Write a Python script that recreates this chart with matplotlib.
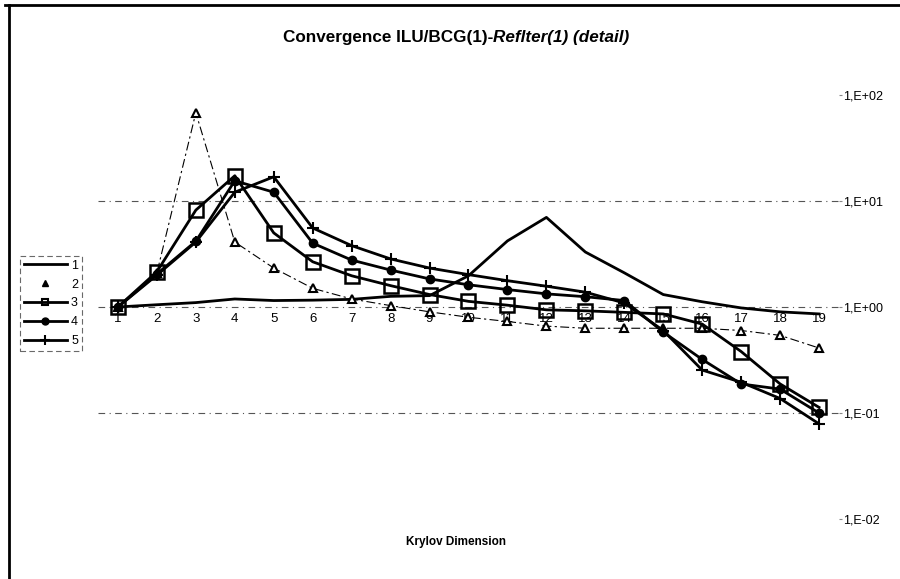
import matplotlib
matplotlib.use("Agg")
import matplotlib.pyplot as plt
from matplotlib.lines import Line2D

plt.rcParams['font.family'] = ['Liberation Sans', 'DejaVu Sans']

# Krylov dimension (categories)
dims = list(range(1, 20))

# series values (log scale)
s1 = [1.0, 1.05, 1.1, 1.19, 1.15, 1.16, 1.18, 1.26, 1.28, 1.97, 4.2, 7.0, 3.3, 2.1, 1.31, 1.12, 0.98, 0.9, 0.86]
s2 = [1.0, 2.1, 68, 4.1, 2.33, 1.5, 1.19, 1.03, 0.9, 0.8, 0.73, 0.66, 0.63, 0.63, 0.63, 0.63, 0.6, 0.54, 0.41]
s3 = [1.0, 2.15, 8.2, 17.3, 5.0, 2.67, 1.97, 1.59, 1.31, 1.13, 1.04, 0.94, 0.92, 0.89, 0.86, 0.69, 0.38, 0.188, 0.113]
s4 = [1.0, 2.05, 4.17, 15.5, 12.1, 4.0, 2.77, 2.23, 1.84, 1.62, 1.46, 1.33, 1.25, 1.15, 0.58, 0.32, 0.188, 0.168, 0.10]
s5 = [1.0, 2.0, 4.1, 12.1, 16.9, 5.56, 3.79, 2.84, 2.33, 2.02, 1.77, 1.57, 1.38, 1.09, 0.6, 0.254, 0.195, 0.137, 0.079]

y_ticks = [1e-2, 1e-1, 1e0, 1e1, 1e2]
y_labels = ["1,E-02", "1,E-01", "1,E+00", "1,E+01", "1,E+02"]

fig = plt.figure(figsize=(9, 5.79), dpi=100)
ax = fig.add_axes([0.1094, 0.1036, 0.8223, 0.7324])

ax.plot(dims, s1, color='black', lw=2.0)
ax.plot(dims, s2, color='black', lw=0.8, ls=(0, (8, 3, 2, 3)), marker='^', ms=6,
        mfc='white', mec='black', mew=1.5)
ax.plot(dims, s3, color='black', lw=2.0, marker='s', ms=10, mfc='none',
        mec='black', mew=1.8)
ax.plot(dims, s4, color='black', lw=2.0, marker='o', ms=6)
ax.plot(dims, s5, color='black', lw=2.0, marker='+', ms=9, mew=1.5)

ax.set_yscale('log')
ax.set_ylim(1e-2, 1e2)
ax.set_xlim(0.5, 19.5)

# gridlines that survive in the scan
for g in [1e-1, 1e0, 1e1]:
    ax.axhline(g, color='#555555', lw=0.8, ls=(0, (6, 4, 1, 4)), zorder=0)

ax.yaxis.tick_right()
ax.set_yticks(y_ticks)
ax.set_yticklabels(y_labels, fontsize=9)
ax.yaxis.set_minor_locator(matplotlib.ticker.NullLocator())
ax.tick_params(axis='y', length=2, pad=1, color='#888888')

# category axis crosses at 1
ax.spines['bottom'].set_position(('data', 1))
for sp in ['top', 'left', 'right', 'bottom']:
    ax.spines[sp].set_visible(False)
ax.set_xticks(dims)
ax.set_xticklabels([str(d) for d in dims], fontsize=9.5)
ax.tick_params(axis='x', length=0, pad=4)

ax.set_xlabel("Krylov Dimension", fontsize=8.5, fontweight='bold', labelpad=0)
ax.xaxis.set_label_coords(0.483, -0.04)

# title: upright part + italic part
t1 = fig.text(0.314, 0.935, "Convergence ILU/BCG(1)-", fontsize=12.3, fontweight='bold',
              ha='left', va='center')
ax.annotate("Reflter(1) (detail)", xy=(1, 0.5), xycoords=t1, va='center', ha='left',
            fontsize=12.3, fontweight='bold', fontstyle='italic')

# legend keys as in the scan (series 2 shows only its marker)
handles = [
    Line2D([], [], color='black', lw=2.0),
    Line2D([], [], ls='none', marker='^', ms=5, color='black'),
    Line2D([], [], color='black', lw=2.0, marker='s', ms=5, mfc='none', mew=1.5),
    Line2D([], [], color='black', lw=2.0, marker='o', ms=5),
    Line2D([], [], color='black', lw=2.0, marker='+', ms=7, mew=1.5),
]
leg = ax.legend(handles, ['1', '2', '3', '4', '5'], loc='upper left',
                bbox_to_anchor=(0.022, 0.558), bbox_transform=fig.transFigure,
                fontsize=9, frameon=True, handlelength=3.5, handletextpad=0.3,
                labelspacing=0.55, borderpad=0.3, fancybox=False, borderaxespad=0)
leg.get_frame().set_edgecolor('#444444')
leg.get_frame().set_linestyle((0, (5, 3)))
leg.get_frame().set_linewidth(0.8)

# outer frame of the scanned chart
fig.add_artist(Line2D([0.006, 1.0], [0.992, 0.992], color='black', lw=2))
fig.add_artist(Line2D([0.01, 0.01], [0.0, 0.992], color='black', lw=2))

fig.savefig("out.png", dpi=100)
